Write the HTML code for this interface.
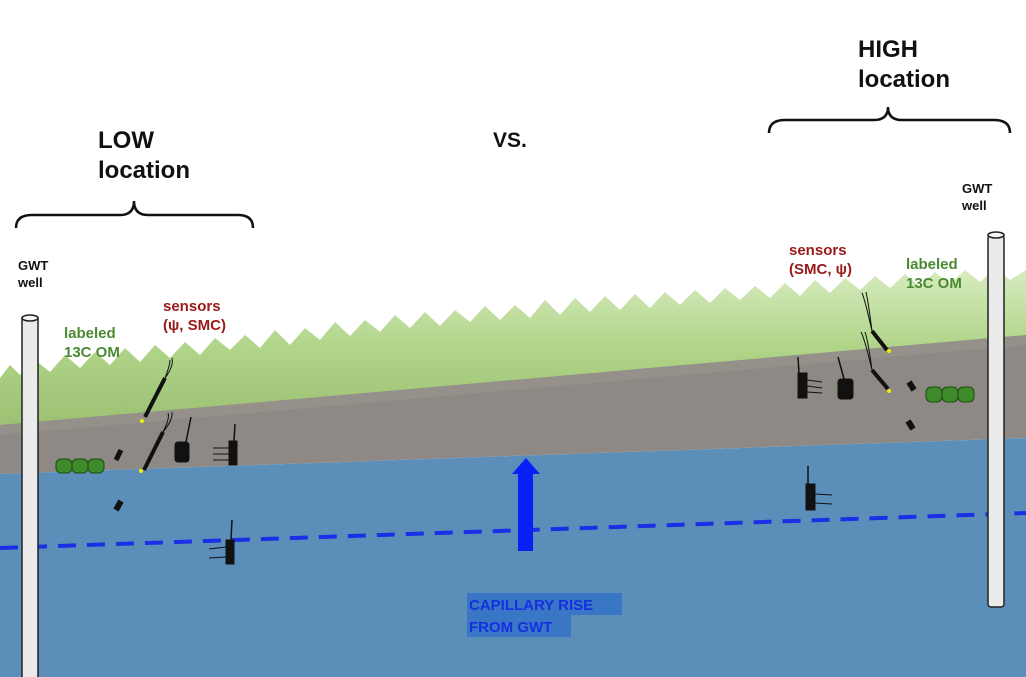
<!DOCTYPE html>
<html><head><meta charset="utf-8">
<style>
html,body{margin:0;padding:0;background:#fff;}
svg{display:block;font-family:"Liberation Sans",Arial,sans-serif;}
</style></head>
<body>
<svg width="1026" height="677" viewBox="0 0 1026 677" xmlns="http://www.w3.org/2000/svg">
<defs>
<linearGradient id="grass" x1="0" y1="0" x2="0" y2="1">
<stop offset="0" stop-color="#d8ecc0"/><stop offset="0.5" stop-color="#b0d488"/><stop offset="1" stop-color="#9cc072"/>
</linearGradient>
</defs>
<rect width="1026" height="677" fill="#fff"/>
<!-- grass -->
<path d="M0,378 L10,365 L20,375 L35,360 L50,372 L65,355 L80,368 L95,352 L110,365 L125,348 L140,362 L155,345 L170,358 L185,342 L200,355 L215,338 L230,350 L245,335 L260,348 L275,330 L290,345 L305,328 L320,340 L335,322 L350,336 L365,320 L380,332 L395,315 L410,328 L425,312 L440,326 L455,310 L470,322 L485,306 L500,320 L515,305 L530,318 L545,300 L560,315 L575,298 L590,312 L605,296 L620,310 L635,294 L650,308 L665,292 L680,305 L695,290 L710,303 L725,288 L740,300 L755,286 L770,298 L785,283 L800,296 L815,280 L830,293 L845,278 L860,290 L875,276 L890,288 L905,274 L920,286 L935,272 L950,284 L965,270 L980,282 L995,268 L1010,280 L1026,270 L1026,340 L0,428 Z" fill="url(#grass)"/>
<!-- soil -->
<path d="M0,425 L1026,335 L1026,438 L0,474 Z" fill="#8e8984"/>
<path d="M0,425 L1026,335 L1026,345 L0,435 Z" fill="#9a958d" opacity="0.6"/>
<!-- water -->
<path d="M0,474 L1026,438 L1026,677 L0,677 Z" fill="#5b8fba"/>
<!-- dashed GWT line -->
<line x1="0" y1="548" x2="1026" y2="513" stroke="#1a2fe6" stroke-width="4" stroke-dasharray="18,11"/>
<!-- arrow -->
<rect x="518" y="472" width="15" height="79" fill="#0a1ff5"/>
<polygon points="512,474 526,458 540,474" fill="#0a1ff5"/>
<!-- label -->
<rect x="467" y="593" width="155" height="22" fill="#3a76c6"/>
<rect x="467" y="615" width="104" height="22" fill="#3a76c6"/>
<text x="469" y="610" font-size="15" font-weight="bold" fill="#1530e0">CAPILLARY RISE</text>
<text x="469" y="632" font-size="15" font-weight="bold" fill="#1530e0">FROM GWT</text>
<!-- wells -->
<rect x="22" y="318" width="16" height="362" fill="#ebebeb" stroke="#222" stroke-width="1.5"/>
<ellipse cx="30" cy="318" rx="8" ry="3" fill="#f5f5f5" stroke="#222" stroke-width="1.5"/>
<rect x="988" y="235" width="16" height="372" rx="3" fill="#ebebeb" stroke="#222" stroke-width="1.5"/>
<ellipse cx="996" cy="235" rx="8" ry="3" fill="#f5f5f5" stroke="#222" stroke-width="1.5"/>
<!-- braces -->
<path d="M16,228 Q16,215 32,215 L120,215 Q134,215 134,201 Q134,215 148,215 L238,215 Q253,215 253,228" fill="none" stroke="#111" stroke-width="2.5"/>
<path d="M769,133 Q769,120 785,120 L874,120 Q888,120 888,107 Q888,120 902,120 L994,120 Q1010,120 1010,133" fill="none" stroke="#111" stroke-width="2.5"/>
<!-- titles -->
<text x="98" y="148" font-size="24" font-weight="bold" fill="#111">LOW</text>
<text x="98" y="178" font-size="24" font-weight="bold" fill="#111">location</text>
<text x="493" y="147" font-size="21" font-weight="bold" fill="#111">VS.</text>
<text x="858" y="57" font-size="24" font-weight="bold" fill="#111">HIGH</text>
<text x="858" y="87" font-size="24" font-weight="bold" fill="#111">location</text>
<text x="18" y="270" font-size="13" font-weight="bold" fill="#111">GWT</text>
<text x="18" y="287" font-size="13" font-weight="bold" fill="#111">well</text>
<text x="962" y="193" font-size="13" font-weight="bold" fill="#111">GWT</text>
<text x="962" y="210" font-size="13" font-weight="bold" fill="#111">well</text>
<text x="64" y="338" font-size="15" font-weight="bold" fill="#4a8a32">labeled</text>
<text x="64" y="357" font-size="15" font-weight="bold" fill="#4a8a32">13C OM</text>
<text x="163" y="311" font-size="15" font-weight="bold" fill="#9a1a1a">sensors</text>
<text x="163" y="330" font-size="15" font-weight="bold" fill="#9a1a1a">(ψ, SMC)</text>
<text x="789" y="255" font-size="15" font-weight="bold" fill="#9a1a1a">sensors</text>
<text x="789" y="274" font-size="15" font-weight="bold" fill="#9a1a1a">(SMC, ψ)</text>
<text x="906" y="269" font-size="15" font-weight="bold" fill="#4a8a32">labeled</text>
<text x="906" y="288" font-size="15" font-weight="bold" fill="#4a8a32">13C OM</text>
<!-- OM cylinders -->
<g fill="#3f8a2a" stroke="#1f4a14" stroke-width="1">
<rect x="56" y="459" width="16" height="14" rx="5"/><rect x="72" y="459" width="16" height="14" rx="5"/><rect x="88" y="459" width="16" height="14" rx="5"/>
<rect x="926" y="387" width="16" height="15" rx="5"/><rect x="942" y="387" width="16" height="15" rx="5"/><rect x="958" y="387" width="16" height="15" rx="5"/>
</g>
<!-- sensors left -->
<g stroke="#111" fill="#111">
<line x1="145" y1="417" x2="165" y2="378" stroke-width="4"/>
<path d="M165,378 Q170,365 170,360 M165,378 Q174,366 172,358" fill="none" stroke-width="1"/>
<circle cx="142" cy="421" r="2" fill="#ee0" stroke="none"/>
<line x1="144" y1="470" x2="163" y2="432" stroke-width="4"/>
<path d="M163,432 Q170,418 168,413 M163,432 Q173,420 172,412" fill="none" stroke-width="1"/>
<circle cx="141" cy="471" r="2" fill="#ee0" stroke="none"/>
<line x1="116" y1="460" x2="121" y2="450" stroke-width="5"/>
<line x1="116" y1="510" x2="121" y2="501" stroke-width="6"/>
<rect x="175" y="442" width="14" height="20" rx="3"/>
<line x1="186" y1="442" x2="191" y2="417" stroke-width="1.5"/>
<rect x="229" y="441" width="8" height="24"/>
<line x1="234" y1="441" x2="235" y2="424" stroke-width="1.5"/>
<line x1="213" y1="448" x2="229" y2="448" stroke-width="1"/><line x1="213" y1="454" x2="229" y2="454" stroke-width="1"/><line x1="213" y1="460" x2="229" y2="460" stroke-width="1"/>
<rect x="226" y="540" width="8" height="24"/>
<line x1="231" y1="540" x2="232" y2="520" stroke-width="1.5"/>
<line x1="209" y1="549" x2="226" y2="547" stroke-width="1"/><line x1="209" y1="558" x2="226" y2="557" stroke-width="1"/>
</g>
<!-- sensors right -->
<g stroke="#111" fill="#111">
<line x1="872" y1="331" x2="887" y2="350" stroke-width="4"/>
<path d="M872,331 Q865,300 862,293 M872,331 Q868,300 866,292" fill="none" stroke-width="1"/>
<circle cx="889" cy="351" r="2" fill="#ee0" stroke="none"/>
<line x1="872" y1="370" x2="888" y2="389" stroke-width="4"/>
<path d="M872,370 Q865,340 861,332 M872,370 Q868,340 865,332" fill="none" stroke-width="1"/>
<circle cx="889" cy="391" r="2" fill="#ee0" stroke="none"/>
<line x1="909" y1="382" x2="914" y2="390" stroke-width="6"/>
<line x1="908" y1="421" x2="913" y2="429" stroke-width="6"/>
<rect x="798" y="373" width="9" height="25"/>
<line x1="799" y1="373" x2="798" y2="357" stroke-width="1.5"/>
<line x1="807" y1="380" x2="822" y2="382" stroke-width="1"/><line x1="807" y1="386" x2="822" y2="388" stroke-width="1"/><line x1="807" y1="392" x2="822" y2="393" stroke-width="1"/>
<rect x="838" y="379" width="15" height="20" rx="3"/>
<line x1="844" y1="379" x2="838" y2="357" stroke-width="1.5"/>
<rect x="806" y="484" width="9" height="26"/>
<line x1="808" y1="484" x2="808" y2="466" stroke-width="1.5"/>
<line x1="815" y1="494" x2="832" y2="495" stroke-width="1"/><line x1="815" y1="503" x2="832" y2="504" stroke-width="1"/>
</g>
</svg>
</body></html>
